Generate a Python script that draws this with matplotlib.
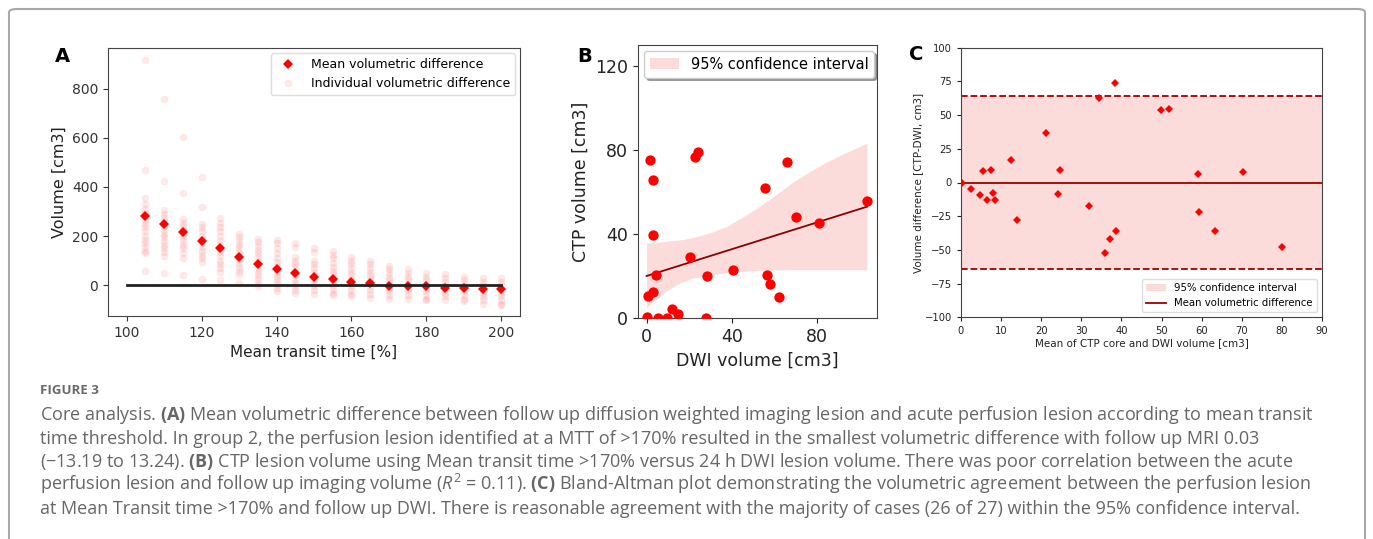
import matplotlib
matplotlib.use("Agg")
import matplotlib.pyplot as plt
from matplotlib.patches import FancyBboxPatch
from matplotlib.lines import Line2D
import numpy as np

# ---- panel A data: volumetric difference per MTT threshold ----
mtt_thresholds = [105, 110, 115, 120, 125, 130, 135, 140, 145, 150,
                  155, 160, 165, 170, 175, 180, 185, 190, 195, 200]
mean_diff = [280, 250, 215, 180, 150, 115, 85, 65, 50, 35,
             25, 15, 8, -2, -2, -5, -10, -10, -15, -15]
indiv_diff = [
    [917, 469, 354, 330, 310, 295, 280, 265, 250, 235, 220, 200, 185, 170, 155, 140, 130, 60],
    [757, 425, 305, 290, 275, 260, 240, 225, 210, 195, 180, 165, 150, 135, 120, 50],
    [605, 375, 270, 255, 240, 225, 210, 195, 180, 165, 150, 130, 110, 40],
    [440, 320, 250, 235, 220, 200, 185, 170, 155, 140, 125, 110, 95, 25],
    [275, 255, 235, 220, 200, 180, 165, 150, 135, 120, 100, 85, 70, 55, 20],
    [210, 195, 180, 165, 150, 135, 120, 105, 90, 75, 60, 45, 10],
    [190, 175, 160, 145, 130, 115, 100, 85, 70, 55, 40, 25, 10, -5],
    [185, 170, 150, 130, 110, 95, 80, 65, 50, 35, 20, 5, -10, -25],
    [170, 155, 115, 100, 85, 70, 55, 40, 25, 10, -5, -20, -30],
    [150, 135, 100, 85, 70, 55, 40, 25, 10, -5, -20, -35],
    [140, 125, 110, 90, 75, 60, 45, 30, 15, 0, -15, -30, -40],
    [115, 100, 85, 70, 55, 40, 25, 10, -5, -20, -35, -45],
    [100, 85, 70, 55, 40, 25, 10, -5, -20, -35, -50],
    [80, 65, 50, 35, 20, 5, -10, -25, -40, -55],
    [65, 50, 35, 20, 5, -10, -25, -40, -55],
    [50, 35, 20, 5, -10, -25, -40, -55, -60],
    [45, 30, 15, 0, -15, -30, -45, -60],
    [35, 20, 5, -10, -25, -40, -55, -65],
    [30, 15, 0, -15, -30, -45, -60, -75],
    [30, 15, 0, -15, -30, -45, -60, -75, -80],
]

# ---- panel B data: CTP vs DWI volume ----
dwi_vol = [1.6, 3.1, 2.8, 4.4, 0.9, 3.1, 0.0, 5.2, 9.4, 12.0, 14.6, 20.2, 22.5,
           24.3, 28.5, 27.7, 40.3, 55.7, 56.4, 57.9, 61.9, 65.8, 69.9, 80.8, 103.3]
ctp_vol = [75.3, 65.8, 39.6, 20.6, 10.3, 12.2, 0.3, 0.0, 0.0, 4.3, 1.9, 29.0, 76.9,
           79.2, 19.8, 0.0, 23.0, 62.1, 20.6, 16.2, 9.8, 74.2, 48.3, 45.2, 55.8]
fit_x = [0, 103.3]
fit_y = [20.0, 53.0]
ci_x = [0, 3, 6, 10, 13.9, 18, 21.7, 30, 37.5, 45, 53, 61, 69, 77, 84.7, 94, 103.3]
ci_low = [4.8, 7.8, 10.3, 13.3, 15.8, 17.6, 19.0, 20.6, 21.5, 22.2, 22.7, 22.9, 23.0,
          23.0, 23.0, 23.0, 23.0]
ci_high = [35.7, 35.9, 36.2, 36.6, 37.0, 37.5, 38.3, 40.6, 43.6, 48.0, 53.1, 59.0, 65.0,
           70.0, 74.5, 79.0, 83.2]

# ---- panel C data: Bland-Altman ----
ba_mean = [0.3, 2.5, 4.7, 5.6, 6.6, 7.4, 7.9, 8.4, 12.5, 14.0, 21.2, 24.3, 24.7,
           31.8, 34.4, 36.0, 37.2, 38.3, 38.6, 49.8, 51.9, 59.1, 59.3, 63.3, 70.3, 80.0]
ba_diff = [-0.5, -4.9, -9.6, 8.9, -13.3, 9.4, -7.9, -12.8, 16.5, -27.9, 36.8, -8.9, 9.1,
           -17.8, 63.0, -52.3, -42.0, 73.8, -36.0, 54.1, 54.8, 6.2, -22.0, -36.0, 8.1, -48.1]
ba_bias = 0.0
ba_loa = 64.2

caption_lines = [
    "Core analysis. $\\mathbf{(A)}$ Mean volumetric difference between follow up diffusion weighted imaging lesion and acute perfusion lesion according to mean transit",
    "time threshold. In group 2, the perfusion lesion identified at a MTT of >170% resulted in the smallest volumetric difference with follow up MRI 0.03",
    "(\u221213.19 to 13.24). $\\mathbf{(B)}$ CTP lesion volume using Mean transit time >170% versus 24 h DWI lesion volume. There was poor correlation between the acute",
    "perfusion lesion and follow up imaging volume ($R^2$ = 0.11). $\\mathbf{(C)}$ Bland-Altman plot demonstrating the volumetric agreement between the perfusion lesion",
    "at Mean Transit time >170% and follow up DWI. There is reasonable agreement with the majority of cases (26 of 27) within the 95% confidence interval.",
]

cap_font = 'Open Sans'
plt.rcParams['mathtext.fontset'] = 'custom'
plt.rcParams['mathtext.rm'] = cap_font
plt.rcParams['mathtext.bf'] = cap_font + ':bold'
plt.rcParams['mathtext.it'] = cap_font + ':italic'

W, H = 1373, 539
fig = plt.figure(figsize=(W / 100, H / 100), dpi=100)

pink = '#fcdcda'

# outer frame
frame = FancyBboxPatch((9 / W, -0.05), (1365 - 9) / W, 1 + 0.05 - 9 / H,
                       boxstyle="round,pad=0,rounding_size=0.006",
                       transform=fig.transFigure, fill=False,
                       edgecolor='#a8a8a8', linewidth=1.5)
fig.patches.append(frame)

# ---------- A ----------
axA = fig.add_axes([108 / W, 1 - 316 / H, 412 / W, 268 / H])
for t, vals in zip(mtt_thresholds, indiv_diff):
    axA.plot([t] * len(vals), vals, 'o', color='red', alpha=0.09,
             markersize=5.5, markeredgewidth=0)
axA.plot(mtt_thresholds, mean_diff, 'D', color='red', markersize=5,
         markeredgewidth=0)
axA.plot([100, 200], [0, 0], color='#222222', linewidth=2)
axA.set_xlim(95, 205)
axA.set_ylim(-125, 965)
axA.set_xticks([100, 120, 140, 160, 180, 200])
axA.set_yticks([0, 200, 400, 600, 800])
axA.tick_params(labelsize=10, colors='#333333')
axA.set_xlabel("Mean transit time [%]", fontsize=11, color='#222222')
axA.set_ylabel("Volume [cm3]", fontsize=11.5, color='#222222')
for s in axA.spines.values():
    s.set_color('#444444')
legA = [Line2D([], [], marker='D', color='red', linestyle='none', markersize=5,
               markeredgewidth=0, label='Mean volumetric difference'),
        Line2D([], [], marker='o', color='red', alpha=0.09, linestyle='none',
               markersize=5.5, markeredgewidth=0, label='Individual volumetric difference')]
axA.legend(handles=legA, loc='upper right', fontsize=9, framealpha=1,
           edgecolor='#dddddd', borderaxespad=0.4)

# ---------- B ----------
axB = fig.add_axes([638 / W, 1 - 318 / H, 239 / W, 273 / H])
axB.fill_between(ci_x, ci_low, ci_high, color=pink, linewidth=0,
                 label='95% confidence interval')
axB.plot(fit_x, fit_y, color='#8b0000', linewidth=1.3)
axB.scatter(dwi_vol, ctp_vol, s=55, color='red', zorder=3, linewidths=0)
axB.set_xlim(-4, 108)
axB.set_ylim(0, 130)
axB.set_xticks([0, 40, 80])
axB.set_yticks([0, 40, 80, 120])
axB.tick_params(labelsize=12.5, colors='#222222')
axB.set_xlabel("DWI volume [cm3]", fontsize=12.5, color='#222222')
axB.set_ylabel("CTP volume [cm3]", fontsize=12.5, color='#222222')
for s in axB.spines.values():
    s.set_color('#444444')
axB.legend(loc='upper left', fontsize=10.5, shadow=True, fancybox=True,
           framealpha=1, edgecolor='#cccccc', borderaxespad=0.4)

# ---------- C ----------
axC = fig.add_axes([961 / W, 1 - 317.3 / H, 361 / W, 269.6 / H])
axC.axhspan(-ba_loa, ba_loa, color=pink, linewidth=0, label='95% confidence interval')
axC.axhline(ba_bias, color='#a00000', linewidth=1.3, label='Mean volumetric difference')
axC.axhline(ba_loa, color='#a00000', linewidth=1.3, linestyle='--')
axC.axhline(-ba_loa, color='#a00000', linewidth=1.3, linestyle='--')
axC.plot(ba_mean, ba_diff, 'D', color='red', markersize=4, markeredgewidth=0)
axC.set_xlim(0, 90)
axC.set_ylim(-100, 100)
axC.set_xticks(np.arange(0, 91, 10))
axC.set_yticks([-100, -75, -50, -25, 0, 25, 50, 75, 100])
axC.tick_params(labelsize=7.2, colors='#222222', length=3)
axC.set_xlabel("Mean of CTP core and DWI volume [cm3]", fontsize=7.5, color='#222222', labelpad=1)
axC.set_ylabel("Volume difference [CTP-DWI, cm3]", fontsize=7.5, color='#222222', labelpad=1)
for s in axC.spines.values():
    s.set_color('#444444')
axC.legend(loc='lower right', fontsize=7.3, framealpha=1, edgecolor='#dddddd')

# panel letters
fig.text(62 / W, 1 - 56 / H, "A", fontsize=14, fontweight='bold', ha='center', va='center')
fig.text(585 / W, 1 - 56 / H, "B", fontsize=14, fontweight='bold', ha='center', va='center')
fig.text(916 / W, 1 - 55 / H, "C", fontsize=14, fontweight='bold', ha='center', va='center')

# caption
fig.text(40 / W, 1 - 390 / H, "FIGURE 3", fontsize=9.5, fontweight='bold',
         family=cap_font, color='#6a6a6a', va='center')
for i, line in enumerate(caption_lines):
    fig.text(40 / W, 1 - (420 + 23.5 * i) / H, line, fontsize=13,
             family=cap_font, color='#666666', va='baseline')

fig.savefig("out.png", dpi=100)
